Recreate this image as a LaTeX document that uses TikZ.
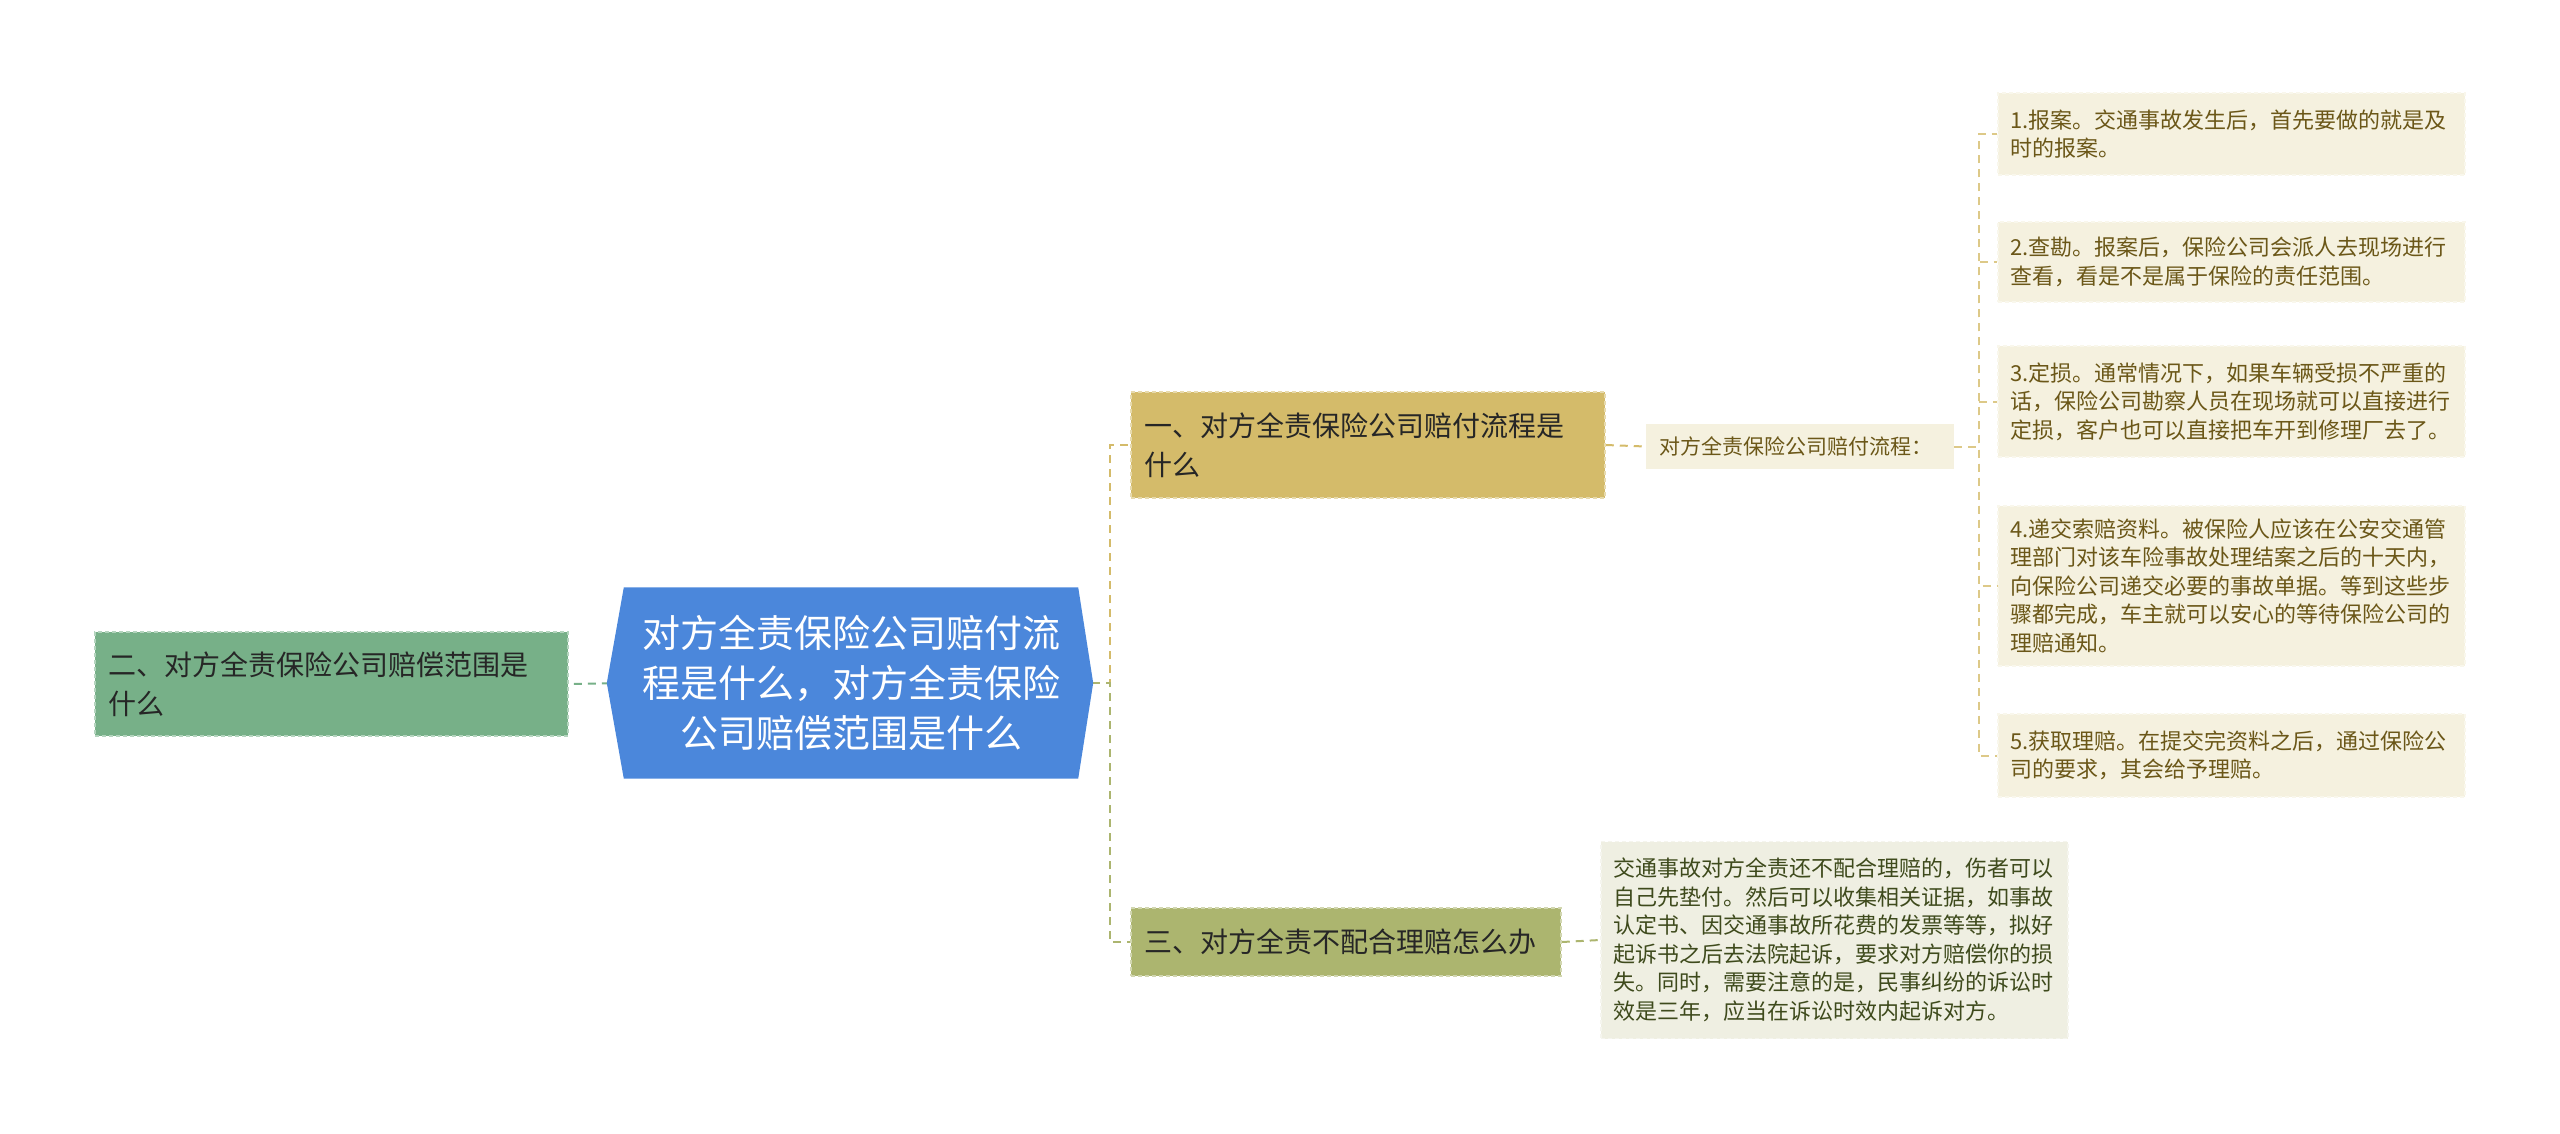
\documentclass[tikz,border=0pt]{standalone}
\usepackage{fontspec}
\setmainfont{Noto Sans CJK SC}
\usetikzlibrary{positioning,backgrounds}
\definecolor{rootblue}{HTML}{4B87DB}
\definecolor{mapgreen}{HTML}{77B088}
\definecolor{mapgold}{HTML}{D4BB6A}
\definecolor{mapolive}{HTML}{ACB56F}
\definecolor{leafbeige}{HTML}{F5F1DF}
\definecolor{leafgrey}{HTML}{EFEFE2}
\definecolor{leafbrown}{HTML}{6B5718}
\definecolor{leafdark}{HTML}{3E4A1C}
\tikzset{
        treenode/.style={align=left,inner sep=0pt},
        % Root node
        node_root/.style={treenode, align=center, text=white, minimum width=454pt, minimum height=191pt, font=\fontsize{38}{50}\selectfont},
        % Main branches
        node_main/.style={treenode, fill=#1, draw=#1!55!white, line width=1.5pt, dash pattern=on 4pt off 3pt, text=black!85, inner xsep=13pt, font=\fontsize{28}{39}\selectfont},
        % Sub heading
        node_sub/.style={treenode, fill=leafbeige, text=leafbrown, inner xsep=13pt, text width=282pt, minimum height=45pt, font=\fontsize{21}{28}\selectfont},
        % Leaf nodes
        node_leaf/.style={treenode, fill=leafbeige, draw=leafbeige!60!white, line width=1.5pt, dash pattern=on 4pt off 3pt, text=leafbrown, inner xsep=12pt, text width=443pt, font=\fontsize{22}{28.5}\selectfont},
        % Connectors
        link/.style={draw=#1, line width=2pt, dash pattern=on 8pt off 6pt}
}
\begin{document}
\begin{tikzpicture}[x=1pt, y=-1pt]
    \useasboundingbox (0,0) rectangle (2560,1133);
    \node[node_root] (root) at (851,683) {对方全责保险公司赔付流\\程是什么，对方全责保险\\公司赔偿范围是什么};
    \node[node_main=mapgreen, text width=447pt, minimum height=104pt] (left) at (331.5,684) {二、对方全责保险公司赔偿范围是\\什么};
    \node[node_main=mapgold, text width=448pt, minimum height=106pt] (b1) at (1368,445) {一、对方全责保险公司赔付流程是\\什么};
    \node[node_main=mapolive, text width=404pt, minimum height=68pt] (b3) at (1346,942) {三、对方全责不配合理赔怎么办};
    \node[node_sub] (sub) at (1800,446.5) {对方全责保险公司赔付流程：};
    \node[node_leaf, minimum height=82pt] (l1) at (2231.5,134) {1.报案。交通事故发生后，首先要做的就是及\\时的报案。};
    \node[node_leaf, minimum height=80pt] (l2) at (2231.5,262) {2.查勘。报案后，保险公司会派人去现场进行\\查看，看是不是属于保险的责任范围。};
    \node[node_leaf, minimum height=111pt] (l3) at (2231.5,401.5) {3.定损。通常情况下，如果车辆受损不严重的\\话，保险公司勘察人员在现场就可以直接进行\\定损，客户也可以直接把车开到修理厂去了。};
    \node[node_leaf, minimum height=160pt] (l4) at (2231.5,586) {4.递交索赔资料。被保险人应该在公安交通管\\理部门对该车险事故处理结案之后的十天内，\\向保险公司递交必要的事故单据。等到这些步\\骤都完成，车主就可以安心的等待保险公司的\\理赔通知。};
    \node[node_leaf, minimum height=83pt] (l5) at (2231.5,755.5) {5.获取理赔。在提交完资料之后，通过保险公\\司的要求，其会给予理赔。};
    \node[node_leaf, fill=leafgrey, draw=leafgrey!60!white, text=leafdark, minimum height=197pt] (b3leaf) at (1834.5,940) {交通事故对方全责还不配合理赔的，伤者可以\\自己先垫付。然后可以收集相关证据，如事故\\认定书、因交通事故所花费的发票等等，拟好\\起诉书之后去法院起诉，要求对方赔偿你的损\\失。同时，需要注意的是，民事纠纷的诉讼时\\效是三年，应当在诉讼时效内起诉对方。};
    \coordinate (spine) at (1110,683);
    \coordinate (leafspine) at (1979,446.5);
    \begin{pgfonlayer}{background}
        \draw[link=mapgreen] (root.west) -- (left.east);
        \draw[link=mapgold] (root.east) -- (spine) |- (b1.west);
        \draw[link=mapolive] (root.east) -- (spine) |- (b3.west);
        \draw[link=mapgold] (b1.east) -- (sub.west);
        \draw[link=mapolive] (b3.east) -- (b3leaf.west);
        \foreach \leaf in {l1,l2,l3,l4,l5}
            \draw[link=mapgold!80!white] (sub.east) -- (leafspine) |- (\leaf.west);
        \fill[rootblue] (root.north west) -- (root.north east) -- ([xshift=15pt]root.east) -- (root.south east) -- (root.south west) -- ([xshift=-17pt]root.west) -- cycle;
    \end{pgfonlayer}
\end{tikzpicture}
\end{document}
